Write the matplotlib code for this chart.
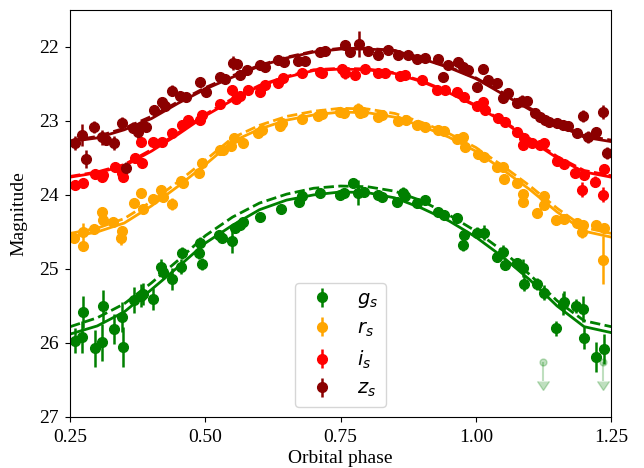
import matplotlib
matplotlib.use("Agg")
import matplotlib.pyplot as plt
import numpy as np

plt.rcParams['font.family'] = 'serif'
plt.rcParams['font.serif'] = ['Liberation Serif', 'DejaVu Serif']
plt.rcParams['font.size'] = 14

model_phase = [0.25, 0.30, 0.35, 0.40, 0.45, 0.50, 0.55, 0.60, 0.65, 0.70, 0.75,
               0.80, 0.85, 0.90, 0.95, 1.00, 1.05, 1.10, 1.15, 1.20, 1.25]
z_solid = [23.28, 23.23, 23.12, 22.97, 22.76, 22.57, 22.41, 22.26, 22.15, 22.07, 22.03,
           22.03, 22.05, 22.16, 22.28, 22.43, 22.64, 22.85, 23.05, 23.22, 23.28]
z_dash = [23.27, 23.21, 23.10, 22.94, 22.74, 22.55, 22.39, 22.25, 22.14, 22.06, 22.02,
          22.02, 22.05, 22.15, 22.27, 22.42, 22.62, 22.83, 23.03, 23.20, 23.26]
i_solid = [23.76, 23.70, 23.61, 23.41, 23.18, 22.93, 22.72, 22.53, 22.41, 22.32, 22.30,
           22.31, 22.36, 22.47, 22.62, 22.80, 23.01, 23.26, 23.50, 23.69, 23.76]
i_dash = [23.75, 23.69, 23.59, 23.39, 23.16, 22.91, 22.70, 22.52, 22.40, 22.31, 22.29,
          22.30, 22.35, 22.46, 22.61, 22.79, 23.00, 23.24, 23.48, 23.67, 23.74]
r_solid = [24.57, 24.50, 24.38, 24.15, 23.88, 23.59, 23.28, 23.11, 22.99, 22.92, 22.88,
           22.89, 22.95, 23.07, 23.22, 23.41, 23.66, 23.93, 24.23, 24.49, 24.57]
r_dash = [24.52, 24.45, 24.32, 24.09, 23.82, 23.53, 23.23, 23.06, 22.94, 22.87, 22.83,
          22.84, 22.90, 23.02, 23.17, 23.36, 23.61, 23.88, 24.18, 24.44, 24.52]
g_solid = [25.88, 25.77, 25.58, 25.28, 24.97, 24.65, 24.41, 24.20, 24.07, 24.00, 23.96,
           23.97, 24.04, 24.18, 24.35, 24.57, 24.84, 25.15, 25.50, 25.78, 25.86]
g_dash = [25.78, 25.66, 25.47, 25.19, 24.88, 24.55, 24.30, 24.11, 23.99, 23.91, 23.88,
          23.89, 23.95, 24.08, 24.27, 24.49, 24.76, 25.08, 25.43, 25.70, 25.78]

# photometry
phase_z = [0.259, 0.272, 0.280, 0.294, 0.309, 0.317, 0.331, 0.346, 0.353, 0.366, 0.376,
           0.383, 0.390, 0.405, 0.420, 0.426, 0.439, 0.453, 0.464, 0.490, 0.501, 0.527,
           0.536, 0.551, 0.559, 0.564, 0.577, 0.601, 0.610, 0.634, 0.645, 0.671, 0.684,
           0.712, 0.721, 0.758, 0.767, 0.784, 0.801, 0.819, 0.838, 0.856, 0.875, 0.891,
           0.906, 0.930, 0.939, 0.948, 0.967, 0.976, 0.985, 1.002, 1.013, 1.022, 1.039,
           1.050, 1.059, 1.076, 1.085, 1.095, 1.110, 1.119, 1.128, 1.135, 1.150, 1.161,
           1.170, 1.187, 1.198, 1.207, 1.222, 1.235, 1.242]
mag_z = [23.30, 23.19, 23.51, 23.08, 23.22, 23.26, 23.30, 23.03, 23.64, 23.09, 23.15,
         23.07, 23.08, 22.85, 22.74, 22.80, 22.59, 22.66, 22.68, 22.47, 22.61, 22.41,
         22.43, 22.22, 22.23, 22.38, 22.31, 22.24, 22.27, 22.18, 22.20, 22.19, 22.19,
         22.07, 22.05, 21.97, 22.07, 21.96, 22.05, 22.11, 22.04, 22.11, 22.11, 22.16,
         22.15, 22.16, 22.41, 22.24, 22.20, 22.27, 22.31, 22.54, 22.30, 22.45, 22.49,
         22.69, 22.62, 22.76, 22.73, 22.73, 22.89, 22.95, 22.99, 23.01, 23.03, 23.05,
         23.07, 23.16, 22.93, 23.22, 23.15, 22.88, 23.43]
err_z = [0.09, 0.15, 0.12, 0.08, 0.10, 0.06, 0.10, 0.08, 0.08, 0.08, 0.10,
         0.08, 0.06, 0.07, 0.06, 0.05, 0.07, 0.05, 0.05, 0.06, 0.05, 0.05,
         0.05, 0.09, 0.06, 0.05, 0.05, 0.04, 0.04, 0.04, 0.04, 0.04, 0.04,
         0.04, 0.04, 0.05, 0.04, 0.18, 0.04, 0.04, 0.04, 0.04, 0.04, 0.04,
         0.04, 0.04, 0.05, 0.04, 0.04, 0.04, 0.04, 0.05, 0.05, 0.05, 0.05,
         0.05, 0.05, 0.05, 0.08, 0.06, 0.06, 0.05, 0.06, 0.06, 0.06, 0.06,
         0.06, 0.06, 0.08, 0.08, 0.07, 0.09, 0.08]

phase_i = [0.259, 0.274, 0.296, 0.309, 0.311, 0.333, 0.346, 0.348, 0.370, 0.383, 0.381,
           0.403, 0.420, 0.439, 0.457, 0.468, 0.490, 0.494, 0.527, 0.549, 0.557, 0.564,
           0.579, 0.601, 0.610, 0.634, 0.644, 0.679, 0.712, 0.716, 0.753, 0.758, 0.777,
           0.795, 0.819, 0.832, 0.860, 0.869, 0.901, 0.928, 0.943, 0.965, 0.978, 1.002,
           1.013, 1.017, 1.041, 1.054, 1.076, 1.089, 1.087, 1.104, 1.119, 1.126, 1.150,
           1.163, 1.183, 1.196, 1.200, 1.220, 1.235, 1.237]
mag_i = [23.86, 23.84, 23.72, 23.76, 23.73, 23.62, 23.70, 23.76, 23.50, 23.57, 23.28,
         23.28, 23.28, 23.16, 23.05, 22.99, 22.99, 22.92, 22.77, 22.58, 22.70, 22.66,
         22.58, 22.61, 22.51, 22.49, 22.42, 22.35, 22.34, 22.35, 22.30, 22.35, 22.38,
         22.30, 22.35, 22.35, 22.39, 22.38, 22.45, 22.58, 22.58, 22.61, 22.68, 22.80,
         22.74, 22.85, 22.96, 23.01, 23.15, 23.23, 23.32, 23.30, 23.32, 23.30, 23.54,
         23.58, 23.70, 23.93, 23.73, 23.82, 24.00, 23.65]
err_i = [0.06, 0.06, 0.05, 0.06, 0.05, 0.06, 0.06, 0.06, 0.06, 0.05, 0.05,
         0.05, 0.05, 0.05, 0.05, 0.04, 0.04, 0.05, 0.04, 0.07, 0.05, 0.04,
         0.04, 0.04, 0.04, 0.04, 0.04, 0.04, 0.04, 0.04, 0.05, 0.08, 0.04,
         0.04, 0.04, 0.04, 0.04, 0.04, 0.04, 0.04, 0.04, 0.04, 0.04, 0.04,
         0.04, 0.05, 0.04, 0.04, 0.04, 0.05, 0.07, 0.05, 0.05, 0.05, 0.06,
         0.07, 0.06, 0.10, 0.07, 0.07, 0.10, 0.07]

phase_r = [0.257, 0.274, 0.274, 0.294, 0.309, 0.311, 0.329, 0.346, 0.344, 0.368, 0.381,
           0.385, 0.403, 0.418, 0.422, 0.439, 0.455, 0.459, 0.488, 0.494, 0.527, 0.533,
           0.548, 0.553, 0.570, 0.597, 0.605, 0.638, 0.642, 0.679, 0.708, 0.716, 0.749,
           0.756, 0.782, 0.786, 0.791, 0.819, 0.827, 0.856, 0.871, 0.891, 0.906, 0.930,
           0.941, 0.965, 0.976, 0.980, 1.004, 1.015, 1.039, 1.050, 1.052, 1.076, 1.087,
           1.087, 1.112, 1.125, 1.126, 1.148, 1.163, 1.187, 1.198, 1.196, 1.222, 1.237,
           1.235]
mag_r = [24.58, 24.50, 24.69, 24.46, 24.23, 24.34, 24.36, 24.49, 24.58, 24.11, 23.97,
         24.19, 24.05, 23.93, 24.03, 24.12, 23.81, 23.84, 23.70, 23.57, 23.39, 23.39,
         23.34, 23.23, 23.30, 23.16, 23.12, 23.07, 23.03, 22.97, 22.93, 22.91, 22.88,
         22.89, 22.84, 22.89, 22.88, 22.95, 22.92, 23.00, 22.99, 23.05, 23.08, 23.12,
         23.14, 23.24, 23.22, 23.35, 23.45, 23.49, 23.62, 23.62, 23.78, 23.84, 23.99,
         24.09, 24.24, 24.01, 24.14, 24.34, 24.32, 24.38, 24.41, 24.50, 24.41, 24.45,
         24.88]
err_r = [0.06, 0.12, 0.07, 0.06, 0.07, 0.06, 0.06, 0.06, 0.10, 0.06, 0.06,
         0.06, 0.06, 0.06, 0.06, 0.08, 0.05, 0.05, 0.05, 0.05, 0.05, 0.05,
         0.05, 0.05, 0.05, 0.04, 0.04, 0.04, 0.04, 0.04, 0.04, 0.04, 0.04,
         0.04, 0.08, 0.04, 0.04, 0.04, 0.04, 0.04, 0.04, 0.04, 0.04, 0.04,
         0.04, 0.04, 0.05, 0.05, 0.05, 0.05, 0.05, 0.05, 0.06, 0.05, 0.06,
         0.08, 0.06, 0.06, 0.06, 0.06, 0.06, 0.06, 0.06, 0.08, 0.06, 0.06,
         0.33]

phase_g = [0.259, 0.272, 0.274, 0.296, 0.309, 0.311, 0.331, 0.346, 0.348, 0.368, 0.381,
           0.385, 0.403, 0.418, 0.422, 0.439, 0.455, 0.457, 0.488, 0.490, 0.494, 0.525,
           0.531, 0.549, 0.555, 0.564, 0.570, 0.601, 0.640, 0.673, 0.679, 0.712, 0.749,
           0.756, 0.773, 0.782, 0.793, 0.819, 0.827, 0.854, 0.865, 0.869, 0.891, 0.906,
           0.930, 0.941, 0.965, 0.978, 0.976, 1.002, 1.015, 1.039, 1.050, 1.054, 1.076,
           1.087, 1.089, 1.113, 1.126, 1.148, 1.161, 1.163, 1.185, 1.198, 1.200, 1.222,
           1.237]
mag_g = [25.97, 25.92, 25.58, 26.07, 25.99, 25.50, 25.81, 25.65, 26.05, 25.42, 25.36,
         25.34, 25.41, 24.97, 25.04, 25.14, 24.97, 24.78, 24.78, 24.65, 24.93, 24.54,
         24.58, 24.62, 24.45, 24.41, 24.36, 24.30, 24.19, 24.09, 24.01, 23.97, 24.00,
         23.97, 23.84, 23.97, 23.96, 24.00, 24.03, 24.09, 23.97, 24.01, 24.11, 24.07,
         24.23, 24.27, 24.31, 24.54, 24.68, 24.51, 24.51, 24.84, 24.77, 24.95, 24.92,
         24.99, 25.20, 25.20, 25.32, 25.80, 25.47, 25.45, 25.50, 25.54, 25.93, 26.19,
         26.08]
err_g = [0.17, 0.22, 0.22, 0.25, 0.25, 0.22, 0.20, 0.20, 0.27, 0.17, 0.15,
         0.15, 0.15, 0.10, 0.10, 0.15, 0.10, 0.08, 0.08, 0.08, 0.08, 0.05,
         0.05, 0.17, 0.06, 0.05, 0.05, 0.04, 0.05, 0.05, 0.05, 0.04, 0.05,
         0.05, 0.06, 0.17, 0.06, 0.04, 0.04, 0.04, 0.07, 0.04, 0.04, 0.05,
         0.05, 0.05, 0.05, 0.07, 0.08, 0.07, 0.10, 0.06, 0.10, 0.07, 0.07,
         0.12, 0.10, 0.08, 0.10, 0.10, 0.15, 0.15, 0.10, 0.18, 0.15, 0.20,
         0.20]

# g-band upper limits (point and end of arrow)
phase_g_lim = [1.124, 1.235]
mag_g_lim = [26.26, 26.26]
mag_g_lim_end = [26.52, 26.52]

bands = [
    ('$g_s$', 'green', phase_g, mag_g, err_g, g_solid, g_dash),
    ('$r_s$', 'orange', phase_r, mag_r, err_r, r_solid, r_dash),
    ('$i_s$', 'red', phase_i, mag_i, err_i, i_solid, i_dash),
    ('$z_s$', 'darkred', phase_z, mag_z, err_z, z_solid, z_dash),
]

fig, ax = plt.subplots(figsize=(6.44, 4.68), dpi=100)
fig.subplots_adjust(left=0.109, right=0.949, top=0.979, bottom=0.109)

for label, col, ph, mg, er, m_sol, m_dash in bands:
    ax.plot(model_phase, m_sol, color=col, lw=2, ls='-')
    ax.plot(model_phase, m_dash, color=col, lw=2, ls='--')
    ax.errorbar(ph, mg, yerr=er, fmt='o', color=col, ms=7, elinewidth=1.8,
                capsize=0, label=label)

# upper limits: faint dot, line and downward caret
ax.vlines(phase_g_lim, mag_g_lim, mag_g_lim_end, color='green', alpha=0.25, lw=1.5)
ax.plot(phase_g_lim, mag_g_lim, 'o', color='green', alpha=0.25, ms=5)
ax.plot(phase_g_lim, mag_g_lim_end, ls='none', marker=11, color='green',
        alpha=0.25, ms=9)

ax.set_xlim(0.25, 1.25)
ax.set_ylim(27, 21.5)
ax.set_xticks([0.25, 0.50, 0.75, 1.00, 1.25])
ax.set_xticklabels(['0.25', '0.50', '0.75', '1.00', '1.25'])
ax.set_yticks([22, 23, 24, 25, 26, 27])
ax.tick_params(axis='both', pad=5)
ax.set_xlabel('Orbital phase', labelpad=3)
ax.set_ylabel('Magnitude', labelpad=8)
ax.legend(loc='lower center', fontsize=14)

plt.savefig('out.png', dpi=100)
